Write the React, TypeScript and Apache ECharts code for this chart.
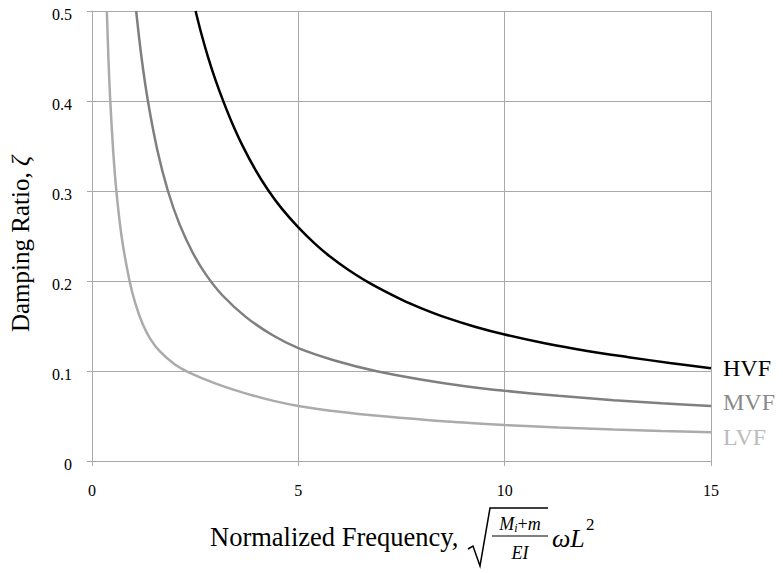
import React, { useEffect, useRef } from "react";
import * as echarts from "echarts";

const seriesNames = ["HVF", "MVF", "LVF"];
const hvf: [number, number][] = [
  [2.51, 0.5], [2.65, 0.4747], [2.81, 0.4491], [3.0, 0.4223], [3.19, 0.3987], [3.4, 0.375], [3.65, 0.3501],
  [3.95, 0.3243], [4.27, 0.3009], [4.6, 0.2804], [5.0, 0.2596], [5.4, 0.2415], [5.76, 0.2274], [6.2, 0.2127],
  [6.74, 0.1973], [7.5, 0.1793], [8.0, 0.1694], [8.6, 0.159], [9.3, 0.1489], [10, 0.1405], [11, 0.1305],
  [12, 0.1223], [13, 0.1154], [14, 0.1089], [15, 0.103],
];
const mvf: [number, number][] = [
  [1.07, 0.5], [1.2, 0.4483], [1.355, 0.4], [1.58, 0.3462], [1.84, 0.3], [2.12, 0.2632], [2.45, 0.2306],
  [2.77, 0.2065], [3.17, 0.1836], [3.74, 0.1596], [4.38, 0.1397], [5, 0.1254], [5.9, 0.1114], [6.9, 0.0997],
  [8, 0.0903], [9, 0.0834], [10, 0.078], [11.3, 0.0724], [12.64, 0.0676], [13.8, 0.0642], [15, 0.0611],
];
const lvf: [number, number][] = [
  [0.36, 0.5], [0.4, 0.445], [0.44, 0.4023], [0.51, 0.347], [0.587, 0.3015], [0.72, 0.2486], [0.91, 0.2],
  [1.05, 0.1752], [1.23, 0.152], [1.42, 0.1352], [1.64, 0.122], [2.0, 0.1075], [2.37, 0.0979], [3, 0.086],
  [3.74, 0.0749], [4.4, 0.0668], [5, 0.0612], [6, 0.0547], [7, 0.0499], [8.6, 0.0438], [10, 0.04],
  [11.3, 0.0372], [12.64, 0.035], [13.8, 0.0334], [15, 0.0319],
];
const xTicks = { min: 0, max: 15, interval: 5 };
const yTicks = { min: 0, max: 0.5, interval: 0.1 };

const lineColors = ["#000000", "#7f7f7f", "#ababab"];
const labelColors = ["#000000", "#8a8a8a", "#bcbcbc"];
const labelOffsets = [[0, 0], [0, -4], [0, 5]];
const serif = "'Liberation Serif', 'Times New Roman', serif";
const grid = "#a9a9a9";

export default function App() {
  const ref = useRef<HTMLDivElement>(null);
  useEffect(() => {
    document.body.style.margin = "0";
    const chart = echarts.init(ref.current!, null, { renderer: "svg" });
    const data = [hvf, mvf, lvf];
    chart.setOption({
      animation: false,
      backgroundColor: "#ffffff",
      textStyle: { fontFamily: serif },
      grid: { left: 92, right: 72, top: 11, bottom: 112 },
      xAxis: {
        type: "value",
        min: xTicks.min,
        max: xTicks.max,
        interval: xTicks.interval,
        axisLine: { show: true, lineStyle: { color: grid, width: 1 } },
        axisTick: { show: true, length: 5, lineStyle: { color: grid } },
        splitLine: { show: true, lineStyle: { color: grid, width: 1 } },
        axisLabel: {
          margin: 21,
          formatter: (v: number) => `{t|${v}}`,
          rich: { t: { fontSize: 16, color: "#000", fontFamily: serif } },
        },
      },
      yAxis: {
        type: "value",
        min: yTicks.min,
        max: yTicks.max,
        interval: yTicks.interval,
        axisLine: { show: true, lineStyle: { color: grid, width: 1 } },
        axisTick: { show: true, length: 5, lineStyle: { color: grid } },
        splitLine: { show: true, lineStyle: { color: grid, width: 1 } },
        axisLabel: {
          margin: 20,
          formatter: (v: number) => `{t|${v}}`,
          rich: { t: { fontSize: 16, color: "#000", fontFamily: serif, padding: [6, 0, 0, 0] } },
        },
      },
      series: seriesNames.map((name, i) => ({
        name,
        type: "line",
        data: data[i],
        smooth: 0.3,
        showSymbol: false,
        lineStyle: { color: lineColors[i], width: 2.5 },
        endLabel: {
          show: true,
          formatter: `{s|${name}}`,
          distance: 12,
          offset: labelOffsets[i],
          rich: { s: { fontSize: 24, fontFamily: serif, color: labelColors[i] } },
        },
        z: 3 - i,
      })),
      graphic: [
        {
          type: "text",
          x: 20,
          y: 244,
          rotation: Math.PI / 2,
          style: {
            text: "{n|Damping Ratio, }{i|ζ}",
            align: "center",
            verticalAlign: "middle",
            rich: {
              n: { fontSize: 25, fontFamily: serif, fill: "#000" },
              i: { fontSize: 25, fontFamily: serif, fontStyle: "italic", fill: "#000" },
            },
          },
        },
        {
          type: "text",
          x: 210,
          y: 537,
          style: {
            text: "{n|Normalized Frequency,}",
            align: "left",
            verticalAlign: "middle",
            rich: { n: { fontSize: 26.5, fontFamily: serif, fill: "#000" } },
          },
        },
        {
          type: "polyline",
          shape: { points: [[468, 549], [473, 546], [480, 566], [490, 508], [548, 508]] },
          style: { stroke: "#000", lineWidth: 1.5, fill: null },
        },
        {
          type: "text",
          x: 520,
          y: 524,
          style: {
            text: "{it|M}{sub|i}{n|+}{it|m}",
            align: "center",
            verticalAlign: "middle",
            rich: {
              it: { fontSize: 18, fontFamily: serif, fontStyle: "italic", fill: "#000" },
              sub: { fontSize: 12, fontFamily: serif, fontStyle: "italic", fill: "#000", padding: [8, 0, 0, 0] },
              n: { fontSize: 18, fontFamily: serif, fill: "#000" },
            },
          },
        },
        {
          type: "line",
          shape: { x1: 492, y1: 536, x2: 548, y2: 536 },
          style: { stroke: "#000", lineWidth: 1.2 },
        },
        {
          type: "text",
          x: 520,
          y: 553,
          style: {
            text: "{i|EI}",
            align: "center",
            verticalAlign: "middle",
            rich: { i: { fontSize: 18, fontFamily: serif, fontStyle: "italic", fill: "#000" } },
          },
        },
        {
          type: "text",
          x: 552,
          y: 538,
          style: {
            text: "{i|ωL}",
            align: "left",
            verticalAlign: "middle",
            rich: { i: { fontSize: 26, fontFamily: serif, fontStyle: "italic", fill: "#000" } },
          },
        },
        {
          type: "text",
          x: 586,
          y: 524,
          style: {
            text: "{n|2}",
            align: "left",
            verticalAlign: "middle",
            rich: { n: { fontSize: 17, fontFamily: serif, fill: "#000" } },
          },
        },
      ],
    });
    return () => chart.dispose();
  }, []);
  return <div ref={ref} style={{ width: 783, height: 573 }} />;
}
